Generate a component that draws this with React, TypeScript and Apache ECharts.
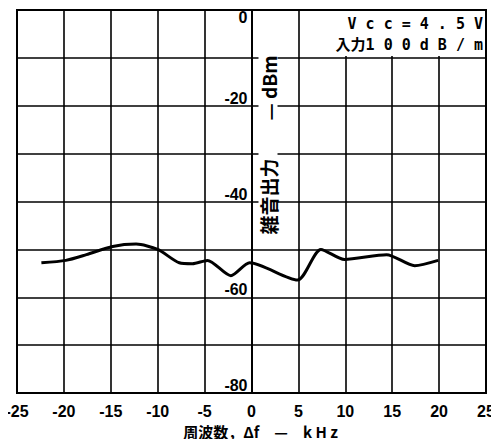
import React, { useEffect, useRef } from "react";
import * as echarts from "echarts";

// Frequency deviation (kHz) and output level (dB)
const freq = [-22.4, -19.8, -17.6, -14.8, -12.3, -10.0, -7.7, -6.3, -4.7, -2.2, -0.2, 4.9, 7.4, 9.9, 14.4, 17.4, 19.9];
const level = [-52.8, -52.3, -51.1, -49.4, -48.9, -50.0, -52.8, -53.0, -52.3, -55.5, -52.8, -56.4, -50.0, -52.1, -51.1, -53.4, -52.3];

const xTicks = { min: -25, max: 25, interval: 5 };
const yTicks = { min: -80, max: 0, interval: 10 };
const yLabelStep = 20;

const xName = "周波数，Δf　—　k H z";
const yName = "雑音出力　　— dBm";
const noteLine1 = "V c c = 4 . 5 V";
const noteLine2 = "入力1 0 0 d B / m";

const FONT = "'Liberation Sans Narrow', 'Liberation Sans', 'Noto Sans CJK JP', sans-serif";

const GRID = { left: 17, right: 13, top: 10, bottom: 54 };

export default function App() {
  const ref = useRef<HTMLDivElement>(null);
  useEffect(() => {
    if (!ref.current) return;
    const chart = echarts.init(ref.current, null, { renderer: "svg" });
    const data = freq.map((f, i) => [f, level[i]]);
    const gridWidth = 499 - GRID.left - GRID.right;
    const zeroOffset = (gridWidth * (0 - xTicks.min)) / (xTicks.max - xTicks.min);
    chart.setOption({
      animation: false,
      backgroundColor: "#fff",
      grid: {
        ...GRID,
        outerBoundsMode: "none",
        containLabel: false,
        show: true,
        borderColor: "#000",
        borderWidth: 2,
      },
      xAxis: {
        type: "value",
        min: xTicks.min,
        max: xTicks.max,
        interval: xTicks.interval,
        axisLine: { onZero: false, lineStyle: { color: "#000", width: 2 } },
        axisTick: { show: false },
        splitLine: { show: true, lineStyle: { color: "#000", width: 1.6 } },
        axisLabel: {
          color: "#000",
          fontFamily: FONT,
          fontWeight: "bold",
          fontSize: 16,
          margin: 10,
          showMinLabel: true,
          showMaxLabel: true,
        },
        name: xName,
        nameLocation: "middle",
        nameGap: 31,
        nameTextStyle: {
          color: "#000",
          fontFamily: "'Noto Sans CJK JP', sans-serif",
          fontSize: 15,
          fontWeight: "bold",
          padding: [0, 0, 0, 18],
        },
      },
      yAxis: {
        type: "value",
        position: "left",
        offset: -zeroOffset,
        min: yTicks.min,
        max: yTicks.max,
        interval: yTicks.interval,
        axisLine: { onZero: false, lineStyle: { color: "#000", width: 2 } },
        axisTick: { show: false },
        splitLine: { show: true, lineStyle: { color: "#000", width: 1.6 } },
        axisLabel: {
          color: "#000",
          fontFamily: FONT,
          fontWeight: "bold",
          fontSize: 16,
          margin: 4,
          lineHeight: 15,
          verticalAlign: "middle",
          showMinLabel: true,
          showMaxLabel: true,
          formatter: (v: number) => {
            if (v % yLabelStep !== 0) return "";
            return v === 0 ? " \n0" : `${v}\n `;
          },
        },
      },
      graphic: [
        {
          type: "rect",
          shape: { x: 318, y: 11, width: 167, height: 45 },
          style: { fill: "#fff" },
          z: 100,
        },
        {
          type: "text",
          x: 483,
          y: 16,
          z: 101,
          style: {
            text: noteLine1,
            align: "right",
            verticalAlign: "top",
            fill: "#000",
            font: "bold 15px 'DejaVu Sans Mono', monospace",
          },
        },
        {
          type: "text",
          x: 483,
          y: 37,
          z: 101,
          style: {
            text: noteLine2,
            align: "right",
            verticalAlign: "top",
            fill: "#000",
            font: "bold 15px 'DejaVu Sans Mono', 'Noto Sans CJK JP', monospace",
          },
        },
        {
          type: "text",
          x: 268,
          y: 145,
          rotation: Math.PI / 2,
          z: 101,
          style: {
            text: yName,
            align: "center",
            verticalAlign: "middle",
            fill: "#000",
            font: "bold 19px 'Noto Sans CJK JP', sans-serif",
            backgroundColor: "#fff",
          },
        },
      ],
      series: [
        {
          type: "line",
          data,
          smooth: 0.25,
          showSymbol: false,
          lineStyle: { color: "#000", width: 3 },
          z: 5,
        },
      ],
    });
    return () => chart.dispose();
  }, []);
  return <div ref={ref} style={{ width: 499, height: 447, margin: -8 }} />;
}
